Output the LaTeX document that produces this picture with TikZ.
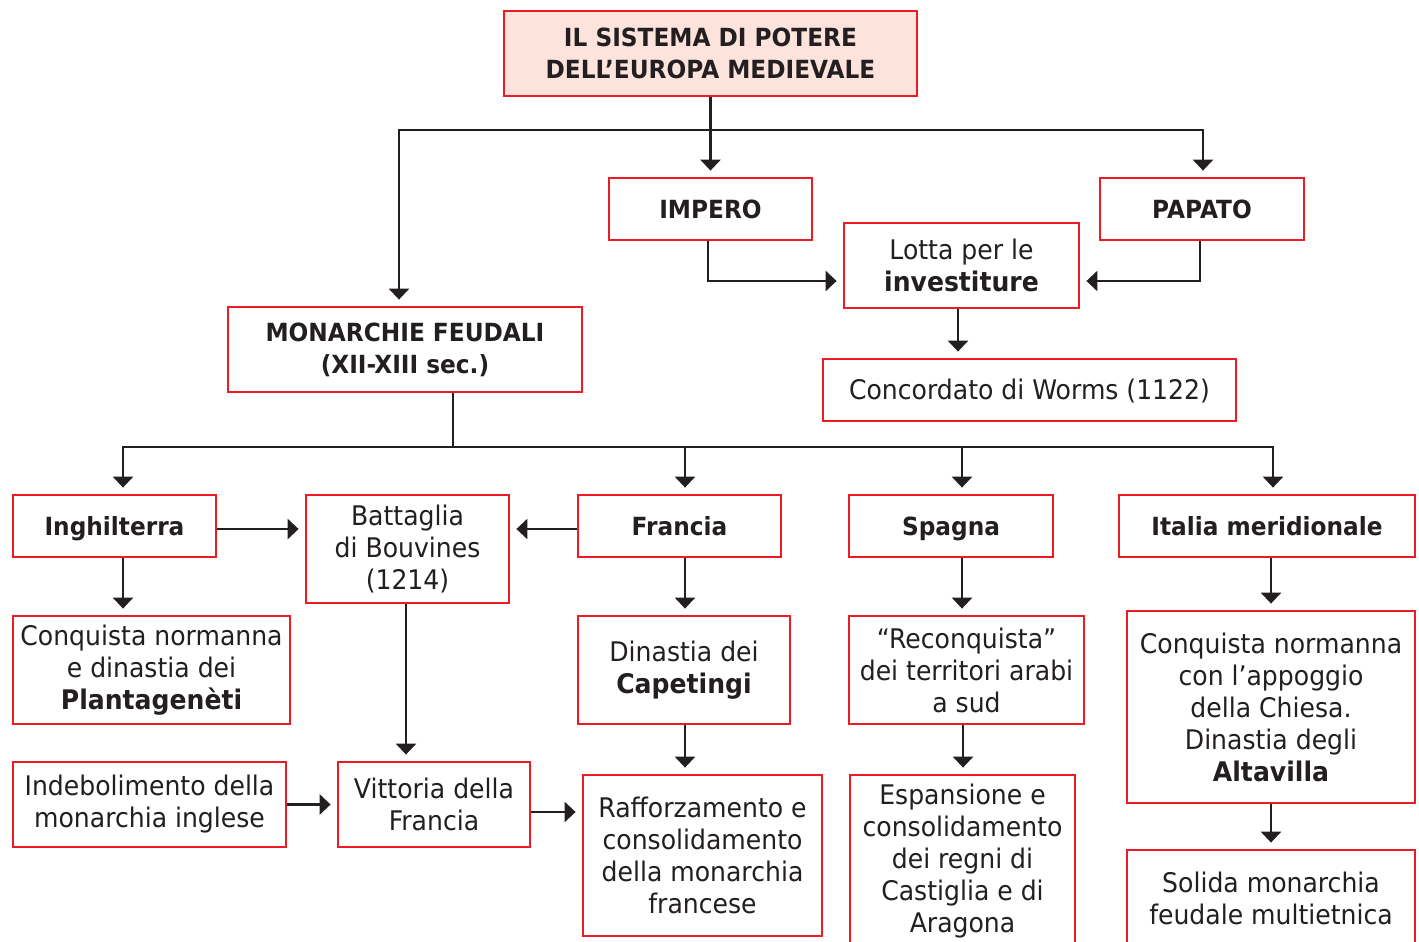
\documentclass[tikz,border=0pt]{standalone}
\usepackage{fontspec}
\setmainfont{DejaVu Sans}[FakeStretch=0.93]
\usepackage{tikz}
\usetikzlibrary{arrows.meta}
\usetikzlibrary{calc}
\usetikzlibrary{positioning}

\definecolor{boxred}{HTML}{ED1C24}
\definecolor{titlefill}{HTML}{FCE4DC}
\definecolor{ink}{HTML}{231F20}

\tikzset{
  box/.style={draw=boxred,line width=2.8pt,fill=white,align=center,inner sep=0pt,text=ink,font=\fontsize{27}{32}\selectfont},
  head/.style={box,font=\bfseries\fontsize{25}{32}\selectfont},
  oneline/.style={text height=24pt,text depth=5.5pt},
  link/.style={draw=ink,line width=2.8pt},
  arr/.style={link,-{Triangle[width=20pt,length=11pt]},shorten >=6pt},
}

\begin{document}
\begin{tikzpicture}[x=1pt,y=-1pt]
\useasboundingbox (0,0) rectangle (1419,942);

\node[head,fill=titlefill,minimum width=413pt,minimum height=85pt] (titolo) at (710.5,53.5) {IL SISTEMA DI POTERE\\DELL’EUROPA MEDIEVALE};

\node[head,oneline,minimum width=203pt,minimum height=62pt] (impero) at (710.5,209) {IMPERO};
\node[head,oneline,minimum width=204pt,minimum height=62pt] (papato) at (1202,209) {PAPATO};
\node[box,minimum width=235pt,minimum height=85pt] (lotta) at (961.5,265.5) {Lotta per le\\\textbf{investiture}};
\node[head,minimum width=354pt,minimum height=85pt] (monarchie) at (405,349.5) {MONARCHIE FEUDALI\\(XII-XIII sec.)};
\node[box,oneline,minimum width=413pt,minimum height=62pt] (worms) at (1029.5,390) {Concordato di Worms (1122)};

\node[head,oneline,minimum width=203pt,minimum height=62pt] (inghilterra) at (114.5,526) {Inghilterra};
\node[box,minimum width=203pt,minimum height=108pt] (bouvines) at (407.5,549) {Battaglia\\di Bouvines\\(1214)};
\node[head,oneline,minimum width=203pt,minimum height=62pt] (francia) at (679.5,526) {Francia};
\node[head,oneline,minimum width=204pt,minimum height=62pt] (spagna) at (951,526) {Spagna};
\node[head,oneline,minimum width=296pt,minimum height=62pt] (italia) at (1267,526) {Italia meridionale};

\node[box,minimum width=277pt,minimum height=108pt] (norm ing) at (151.5,670) {Conquista normanna\\e dinastia dei\\\textbf{Plantagenèti}};
\node[box,minimum width=212pt,minimum height=108pt] (capetingi) at (684,670) {Dinastia dei\\\textbf{Capetingi}};
\node[box,minimum width=235pt,minimum height=108pt] (reconquista) at (966.5,670) {“Reconquista”\\dei territori arabi\\a sud};
\node[box,minimum width=288pt,minimum height=192pt] (norm ita) at (1271,707) {Conquista normanna\\con l’appoggio\\della Chiesa.\\Dinastia degli\\\textbf{Altavilla}};

\node[box,minimum width=273pt,minimum height=85pt] (indebolimento) at (149.5,804.5) {Indebolimento della\\monarchia inglese};
\node[box,minimum width=192pt,minimum height=85pt] (vittoria) at (434,804.5) {Vittoria della\\Francia};
\node[box,minimum width=239pt,minimum height=161pt] (rafforzamento) at (702.5,855.5) {Rafforzamento e\\consolidamento\\della monarchia\\francese};
\node[box,minimum width=225pt,minimum height=172pt] (espansione) at (962.5,861) {Espansione e\\consolidamento\\dei regni di\\Castiglia e di\\Aragona};
\node[box,minimum width=288pt,minimum height=96pt] (solida) at (1271,898) {Solida monarchia\\feudale multietnica};

% top part
\coordinate (snodo) at (710.5,130);
\draw[arr] (titolo) -- (impero);
\draw[arr] (snodo) -| ([xshift=-6pt]monarchie.north);
\draw[arr] (snodo) -| ([xshift=1pt]papato.north);
\draw[arr] ([xshift=-2.5pt]impero.south) |- ([yshift=-15.5pt]lotta.west);
\draw[arr] ([xshift=-2pt]papato.south) |- ([yshift=-15.5pt]lotta.east);
\draw[arr] ([xshift=-3.5pt]lotta.south) -- ([xshift=-3.5pt]lotta.south |- worms.north);

% monarchie
\coordinate (bivio) at (453,447);
\draw[link] (monarchie.south -| bivio) -- (bivio);
\draw[arr] (bivio) -| ([xshift=8.5pt]inghilterra.north);
\draw[arr] (bivio) -| ([xshift=5.5pt]francia.north);
\draw[arr] (bivio) -| ([xshift=11pt]spagna.north);
\draw[arr] (bivio) -| ([xshift=6pt]italia.north);

\draw[arr] ([yshift=-3pt]inghilterra.east) -- ([yshift=-3pt]inghilterra.east -| bouvines.west);
\draw[arr] ([yshift=-3pt]francia.west) -- ([yshift=-3pt]francia.west -| bouvines.east);
\draw[arr] ([xshift=8.5pt]inghilterra.south) -- ([xshift=8.5pt]inghilterra.south |- norm ing.north);
\draw[arr] ([xshift=-1.5pt]bouvines.south) -- ([xshift=-1.5pt]bouvines.south |- vittoria.north);
\draw[arr] ([xshift=5.5pt]francia.south) -- ([xshift=5.5pt]francia.south |- capetingi.north);
\draw[arr] ([xshift=1pt]capetingi.south) -- ([xshift=1pt]capetingi.south |- rafforzamento.north);
\draw[arr] ([xshift=11pt]spagna.south) -- ([xshift=11pt]spagna.south |- reconquista.north);
\draw[arr] ([xshift=-3.5pt]reconquista.south) -- ([xshift=-3.5pt]reconquista.south |- espansione.north);
\draw[arr] ([xshift=4pt]italia.south) -- (norm ita.north);
\draw[arr] (norm ita) -- (solida);

\draw[arr] (indebolimento) -- (vittoria);
\draw[arr] ([yshift=-7.5pt]vittoria.east) -- ([yshift=-7.5pt]vittoria.east -| rafforzamento.west);
\end{tikzpicture}
\end{document}
